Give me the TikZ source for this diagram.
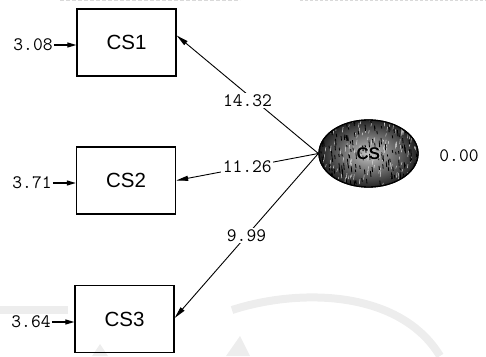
\documentclass[tikz,border=0pt]{standalone}
\usepackage{fontspec}
\newfontfamily\boxfont{Liberation Sans}
\usetikzlibrary{arrows.meta,shapes.geometric}
\begin{document}
\begin{tikzpicture}[x=1pt,y=1pt,
  var/.style={draw, line width=1.3pt, minimum width=99pt, minimum height=67pt,
    inner sep=0pt, font=\boxfont\fontsize{20.5}{24}\selectfont},
  latent/.style={ellipse, draw, line width=1.3pt, minimum width=99pt,
    minimum height=67pt, inner sep=0pt},
  num/.style={font=\ttfamily\fontsize{19}{22}\selectfont, inner sep=1pt},
  load/.style={line width=0.9pt, -{Triangle[length=12pt,width=5pt]}},
  err/.style={line width=1.2pt, -{Triangle[length=9pt,width=5pt]}},
  lbl/.style={num, draw=none, fill=white, inner sep=1.5pt},
]
\useasboundingbox (0,0) rectangle (486,356);

% faint background emblem
\begin{scope}[gray!14, line width=8pt]
  \draw (0,46) -- (68,46);
  \draw (232,46) .. controls (300,68) and (400,66) .. (440,0);
  \fill (92,0) -- (100,12) -- (108,0) -- cycle;
  \fill (226,0) -- (240,20) -- (250,0) -- cycle;
\end{scope}
\draw[gray!30, line width=0.6pt, dash pattern=on 4pt off 2pt] (60,355.5) -- (240,355.5);
\draw[gray!30, line width=0.6pt, dash pattern=on 3pt off 2pt] (300,355.5) -- (486,355.5);

% observed indicators
\node[var] (cs1) at (126.5,313.5) {CS1};
\node[var] (cs2) at (126,175.5) {CS2};
\node[var] (cs3) at (124.5,37) {CS3};

% latent factor with a grainy dark fill
\node[latent] (cs) at (368.5,202.5) {};
\begin{scope}
  \clip (cs.center) ellipse (49pt and 33pt);
  \shade[inner color=gray!45, outer color=black!90] (cs.center) ellipse (52pt and 36pt);
  \pgfmathsetseed{11}
  \foreach \i in {1,...,160}{
    \pgfmathsetmacro{\px}{368.5+50*rand}
    \pgfmathsetmacro{\py}{202.5+34*rand}
    \pgfmathsetmacro{\ln}{2+4*rnd}
    \draw[white!70!gray, line width=0.5pt] (\px,\py) -- ++(0.6,\ln);
  }
  \foreach \i in {1,...,160}{
    \pgfmathsetmacro{\px}{368.5+50*rand}
    \pgfmathsetmacro{\py}{202.5+34*rand}
    \pgfmathsetmacro{\ln}{2+5*rnd}
    \draw[black, line width=0.8pt] (\px,\py) -- ++(-0.5,\ln);
  }
\end{scope}
\node[latent, fill=none] at (cs.center) {};
\node[font=\boxfont\bfseries\fontsize{17}{20}\selectfont, text=white!85!gray] at ([xshift=0.6pt,yshift=-0.6pt]cs.center) {CS};
\node[font=\boxfont\bfseries\fontsize{17}{20}\selectfont, text=black] at (cs.center) {CS};

% factor variance
\node[num] (v0) at (459,200) {0.00};

% error variances
\node[num] (e1) at (33,311) {3.08};
\node[num] (e2) at (32,173) {3.71};
\node[num] (e3) at (31,34) {3.64};
\draw[err] (e1.east) -- (e1.east -| cs1.west);
\draw[err] (e2.east) -- (e2.east -| cs2.west);
\draw[err] (e3.east) -- (e3.east -| cs3.west);

% loadings
\draw[load] (cs.west) -- node[lbl, pos=0.5, yshift=-6pt] {14.32} ([yshift=7pt]cs1.east);
\draw[load] (cs.west) -- node[lbl, pos=0.5] {11.26} (cs2.east);
\draw[load] (cs.west) -- node[lbl, pos=0.5] {9.99} ([yshift=1pt]cs3.east);
\end{tikzpicture}
\end{document}
